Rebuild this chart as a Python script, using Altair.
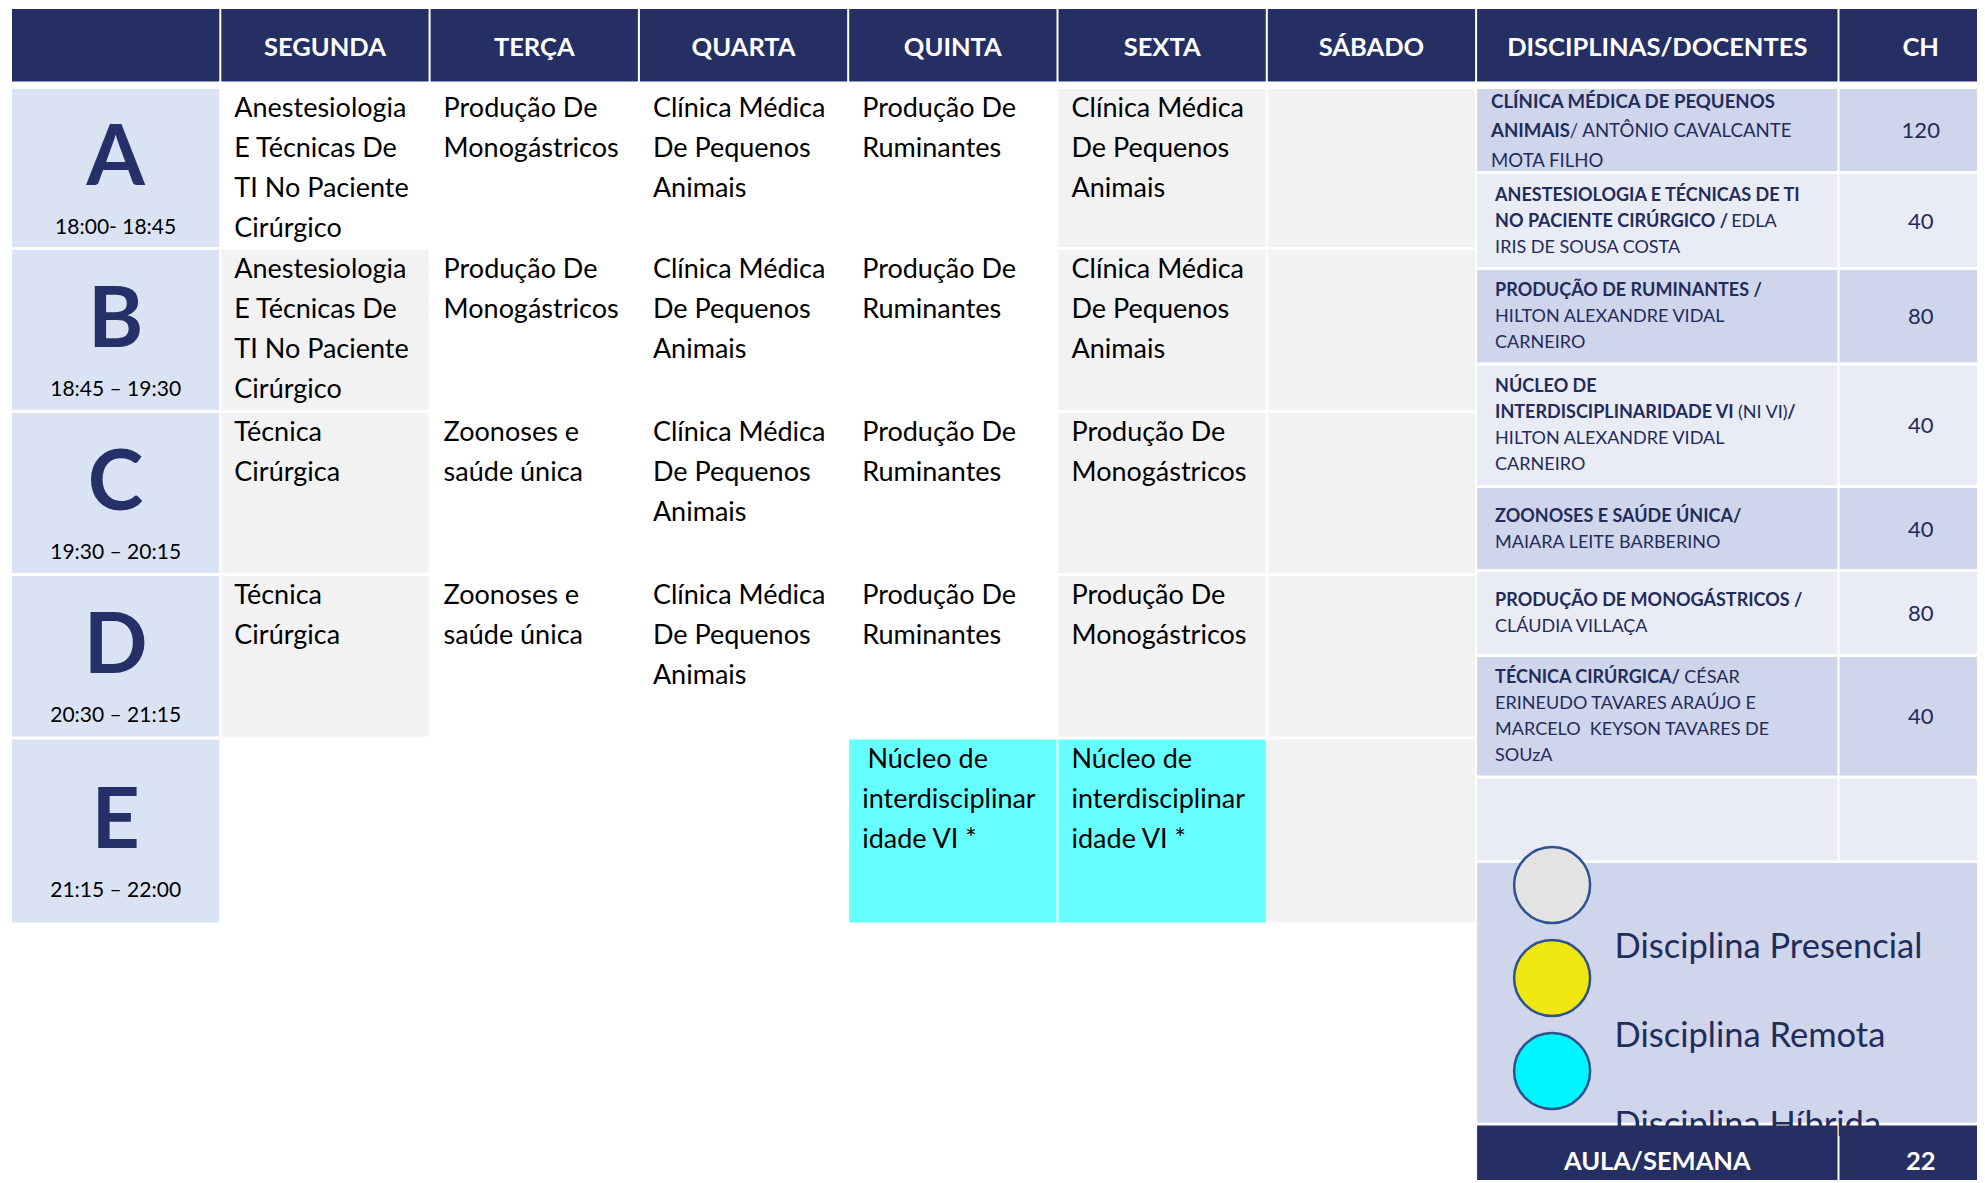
import unicodedata
import altair as alt
import pandas as pd

# ---------------- values ----------------
dias = ["SEGUNDA", "TERÇA", "QUARTA", "QUINTA", "SEXTA", "SÁBADO"]
horarios = ["A", "B", "C", "D", "E"]
intervalos = ["18:00- 18:45", "18:45 – 19:30", "19:30 – 20:15", "20:30 – 21:15", "21:15 – 22:00"]

anestesiologia = ["Anestesiologia", "E Técnicas De", "TI No Paciente", "Cirúrgico"]
tecnica = ["Técnica", "Cirúrgica"]
monogastricos = ["Produção De", "Monogástricos"]
zoonoses = ["Zoonoses e", "saúde única"]
clinica = ["Clínica Médica", "De Pequenos", "Animais"]
ruminantes = ["Produção De", "Ruminantes"]
nucleo_qui = [" Núcleo de", "interdisciplinar", "idade VI *"]
nucleo_sex = ["Núcleo de", "interdisciplinar", "idade VI *"]

aulas = {
    "SEGUNDA": [anestesiologia, anestesiologia, tecnica, tecnica, []],
    "TERÇA": [monogastricos, monogastricos, zoonoses, zoonoses, []],
    "QUARTA": [clinica, clinica, clinica, clinica, []],
    "QUINTA": [ruminantes, ruminantes, ruminantes, ruminantes, nucleo_qui],
    "SEXTA": [clinica, clinica, monogastricos, monogastricos, nucleo_sex],
    "SÁBADO": [[], [], [], [], []],
}
modalidade = {
    "SEGUNDA": ["", "presencial", "presencial", "presencial", ""],
    "TERÇA": ["", "", "", "", ""],
    "QUARTA": ["", "", "", "", ""],
    "QUINTA": ["", "", "", "", "hibrida"],
    "SEXTA": ["presencial", "presencial", "presencial", "presencial", "hibrida"],
    "SÁBADO": ["presencial", "presencial", "presencial", "presencial", "presencial"],
}

cabecalho_direita = ["DISCIPLINAS/DOCENTES", "CH"]
# each discipline: lines made of (text, bold) segments
disciplinas_docentes = [
    [[("CLÍNICA MÉDICA DE PEQUENOS", True)],
     [("ANIMAIS", True), ("/ ANTÔNIO CAVALCANTE", False)],
     [("MOTA FILHO", False)]],
    [[("ANESTESIOLOGIA E TÉCNICAS DE TI", True)],
     [("NO PACIENTE CIRÚRGICO /", True), (" EDLA", False)],
     [("IRIS DE SOUSA COSTA", False)]],
    [[("PRODUÇÃO DE RUMINANTES /", True)],
     [("HILTON ALEXANDRE VIDAL", False)],
     [("CARNEIRO", False)]],
    [[("NÚCLEO DE", True)],
     [("INTERDISCIPLINARIDADE VI", True), (" (NI VI)", False), ("/", True)],
     [("HILTON ALEXANDRE VIDAL", False)],
     [("CARNEIRO", False)]],
    [[("ZOONOSES E SAÚDE ÚNICA/", True)],
     [("MAIARA LEITE BARBERINO", False)]],
    [[("PRODUÇÃO DE MONOGÁSTRICOS /", True)],
     [("CLÁUDIA VILLAÇA", False)]],
    [[("TÉCNICA CIRÚRGICA/", True), (" CÉSAR", False)],
     [("ERINEUDO TAVARES ARAÚJO E", False)],
     [("MARCELO  KEYSON TAVARES DE", False)],
     [("SOUzA", False)]],
    [],
]
carga_horaria = ["120", "40", "80", "40", "40", "80", "40", ""]

legenda = ["Disciplina Presencial", "Disciplina Remota", "Disciplina Híbrida"]
rodape = ["AULA/SEMANA", "22"]

# ---------------- styles ----------------
NAVY = "#252F63"
LABEL_BG = "#DAE3F3"
DARK_ROW = "#CFD5EA"
LIGHT_ROW = "#E9EBF5"
TEXT_NAVY = "#1F2C5C"
LETTER_NAVY = "#253068"
MOD_FILL = {"": "#FFFFFF", "presencial": "#F2F2F2", "hibrida": "#66FFFF"}
LEGEND_FILL = ["#E3E3E3", "#F0E612", "#00F5FF"]
LEGEND_STROKE = "#2F528F"
FONT = "Lato"
CELL_FS = 27
HEAD_FS = 25.5

# ---------------- layout ----------------
PAGE_W, PAGE_H = 1969, 1172     # drawing size (page minus its margins)
X0 = 11.0
COL_W = 209.3
DISC_W = 362.4
CH_W = 164.5
HEAD_TOP, HEAD_BOT = 7.5, 83.0
LEFT_ROW_H = [161, 163, 163, 163.5, 186]
RIGHT_ROW_H = [85, 96, 95.5, 122.5, 84, 85, 121.5, 84.5]
BODY_TOP = 87.5
LEGEND_H = 262.5
FOOT_H = 75
CG, RG = 1.0, 1.5          # half gaps between cells

col_edges = [X0 + i * COL_W for i in range(8)]
disc_l = col_edges[-1]
disc_r = disc_l + DISC_W
ch_r = disc_r + CH_W

W_EM = {'A': .68, 'B': .65, 'C': .68, 'D': .76, 'E': .57, 'F': .55, 'G': .73, 'H': .77,
        'I': .29, 'J': .40, 'K': .68, 'L': .51, 'M': .93, 'N': .77, 'O': .80, 'P': .61,
        'Q': .80, 'R': .64, 'S': .54, 'T': .59, 'U': .74, 'V': .68, 'W': 1.04, 'X': .66,
        'Y': .63, 'Z': .62, ' ': .193, '/': .37, '(': .26, ')': .26}


def text_width(s, bold, size):
    em = sum(W_EM.get(unicodedata.normalize("NFD", ch)[0].upper(), 0.55) for ch in s)
    return em * size * (1.012 if bold else 1.0)


NBSP = "\u00a0"


def place(s, x, bold, size):
    """leading spaces become an x shift; inner double spaces are kept"""
    lead = len(s) - len(s.lstrip(" "))
    return x + text_width(" " * lead, bold, size), s.lstrip(" ").replace("  ", " " + NBSP)


cells, foot_cells = [], []


def add_cell(lst, x, x2, y, y2, fill):
    lst.append(dict(x=x + CG, x2=x2 - CG, y=y + RG, y2=y2 - RG, fill=fill))


header_txt, cell_txt, letter_txt, time_txt = [], [], [], []
seg_txt, ch_txt, legend_txt, legend_pts, foot_txt = [], [], [], [], []

# header row
for i, name in enumerate([""] + dias):
    add_cell(cells, col_edges[i], col_edges[i + 1], HEAD_TOP, HEAD_BOT, NAVY)
    header_txt.append(dict(x=(col_edges[i] + col_edges[i + 1]) / 2,
                           y=(HEAD_TOP + HEAD_BOT) / 2 + 2.5, text=name))
for (l, r), name in zip([(disc_l, disc_r), (disc_r, ch_r)], cabecalho_direita):
    add_cell(cells, l, r, HEAD_TOP, HEAD_BOT, NAVY)
    header_txt.append(dict(x=(l + r) / 2, y=(HEAD_TOP + HEAD_BOT) / 2 + 2.5, text=name))

# left grid
top = BODY_TOP
for r, (hor, h) in enumerate(zip(horarios, LEFT_ROW_H)):
    bot = top + h
    mid = (top + bot) / 2
    add_cell(cells, col_edges[0], col_edges[1], top, bot, LABEL_BG)
    letter_txt.append(dict(x=(col_edges[0] + col_edges[1]) / 2, y=mid - 8, text=hor))
    time_txt.append(dict(x=(col_edges[0] + col_edges[1]) / 2, y=mid + 60, text=intervalos[r]))
    for c, dia in enumerate(dias):
        l, rr = col_edges[c + 1], col_edges[c + 2]
        add_cell(cells, l, rr, top, bot, MOD_FILL[modalidade[dia][r]])
        for k, line in enumerate(aulas[dia][r]):
            px, t = place(line, l + 14, False, CELL_FS)
            cell_txt.append(dict(x=px, y=top + RG + 20 + 40 * k, text=t))
    top = bot

# right table
top = BODY_TOP
for i, (lines, ch, h) in enumerate(zip(disciplinas_docentes, carga_horaria, RIGHT_ROW_H)):
    bot = top + h
    mid = (top + bot) / 2
    fill = DARK_ROW if i % 2 == 0 else LIGHT_ROW
    add_cell(cells, disc_l, disc_r, top, bot, fill)
    add_cell(cells, disc_r, ch_r, top, bot, fill)
    fs, lh, pad = (18.6, 29.5, 15) if i == 0 else (18, 26, 19)
    y0 = mid - (len(lines) - 1) * lh / 2 + 1
    for k, line in enumerate(lines):
        cx = disc_l + pad
        for s, bold in line:
            px, t = place(s, cx, bold, fs)
            seg_txt.append(dict(x=px, y=y0 + k * lh, text=t, bold=bold, fs=fs))
            cx += text_width(s, bold, fs)
    if ch:
        ch_txt.append(dict(x=(disc_r + ch_r) / 2, y=mid + 1, text=ch))
    top = bot

# legend block
leg_top, leg_bot = top, top + LEGEND_H
add_cell(cells, disc_l, ch_r, leg_top, leg_bot, DARK_ROW)
for k, (lab, col) in enumerate(zip(legenda, LEGEND_FILL)):
    legend_pts.append(dict(x=disc_l + 76, y=leg_top + 23.5 + 93 * k, fill=col))
    legend_txt.append(dict(x=disc_l + 138.5, y=leg_top + 86 + 89 * k, text=lab))

# footer
f_top, f_bot = leg_bot, leg_bot + FOOT_H
for (l, r), lab in zip([(disc_l, disc_r), (disc_r, ch_r)], rodape):
    add_cell(foot_cells, l, r, f_top, f_bot, NAVY)
    foot_txt.append(dict(x=(l + r) / 2, y=(f_top + f_bot) / 2, text=lab))

# ---------------- chart ----------------
xs = alt.Scale(domain=[8, 8 + PAGE_W], nice=False, zero=False)
ys = alt.Scale(domain=[8, 8 + PAGE_H], nice=False, zero=False, reverse=True)


def X(f):
    return alt.X(f, type="quantitative", scale=xs, axis=None)


def Y(f):
    return alt.Y(f, type="quantitative", scale=ys, axis=None)


def rects(rows):
    return alt.Chart(pd.DataFrame(rows)).mark_rect(clip=True, strokeWidth=0).encode(
        x=X("x"), x2="x2", y=Y("y"), y2="y2", fill=alt.Fill("fill:N", scale=None))


def texts(rows, **kw):
    return alt.Chart(pd.DataFrame(rows)).mark_text(font=FONT, baseline="middle", **kw).encode(
        x=X("x"), y=Y("y"), text="text:N")


seg_df = pd.DataFrame(seg_txt)
bold_layer = alt.Chart(seg_df[seg_df.bold]).mark_text(
    font=FONT, fontWeight="bold", align="left", baseline="middle", color=TEXT_NAVY).encode(
    x=X("x"), y=Y("y"), text="text:N", size=alt.Size("fs:Q", scale=None))
reg_layer = alt.Chart(seg_df[~seg_df.bold]).mark_text(
    font=FONT, align="left", baseline="middle", color=TEXT_NAVY).encode(
    x=X("x"), y=Y("y"), text="text:N", size=alt.Size("fs:Q", scale=None))

circles = alt.Chart(pd.DataFrame(legend_pts)).mark_point(
    shape="circle", filled=True, size=76 * 76, opacity=1,
    stroke=LEGEND_STROKE, strokeWidth=2.5).encode(
    x=X("x"), y=Y("y"), fill=alt.Fill("fill:N", scale=None))

chart = alt.layer(
    rects(cells),
    texts(header_txt, align="center", fontSize=HEAD_FS, fontWeight="bold", color="white"),
    texts(cell_txt, align="left", fontSize=CELL_FS, color="black"),
    texts(letter_txt, align="center", fontSize=84, fontWeight="bold", color=LETTER_NAVY),
    texts(time_txt, align="center", fontSize=21, color="black"),
    bold_layer,
    reg_layer,
    texts(ch_txt, align="center", fontSize=22, color=TEXT_NAVY),
    circles,
    texts(legend_txt, align="left", fontSize=34.5, color=TEXT_NAVY),
    rects(foot_cells),
    texts(foot_txt, align="center", fontSize=HEAD_FS, fontWeight="bold", color="white"),
).properties(
    width=PAGE_W, height=PAGE_H, padding=0,
    autosize=alt.AutoSizeParams(type="none"), background="white",
).configure_view(strokeWidth=0)

chart.save("out.html", embed_options={"renderer": "svg", "actions": False})
